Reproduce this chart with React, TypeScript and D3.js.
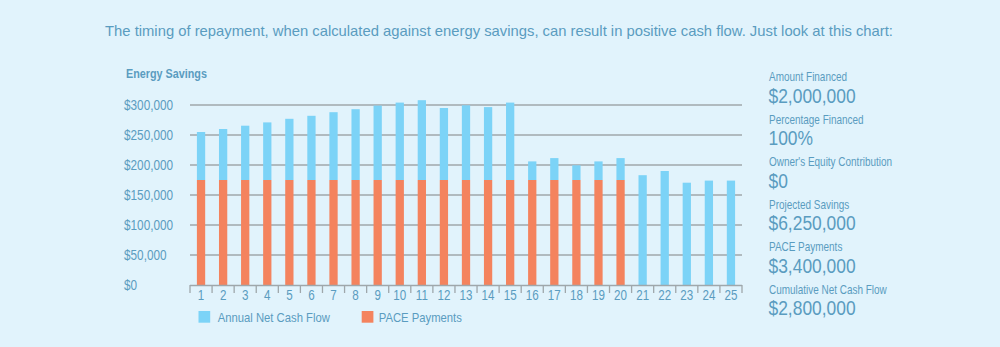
import React from "react";
import * as d3 from "d3";

const years = d3.range(1, 26).map(String);
const pacePayments = [175000,175000,175000,175000,175000,175000,175000,175000,175000,175000,175000,175000,175000,175000,175000,175000,175000,175000,175000,175000,0,0,0,0,0];
const netCashFlow = [80000,85000,90500,96000,102000,107000,113000,118000,124000,129000,133000,120000,124500,121500,129000,31000,36500,24500,31000,36500,183000,190000,170500,174000,174000];
const yTicks = [0, 50000, 100000, 150000, 200000, 250000, 300000];
const summaryLabels = ["Amount Financed","Percentage Financed","Owner's Equity Contribution","Projected Savings","PACE Payments","Cumulative Net Cash Flow"];
const summaryValues = ["$2,000,000","100%","$0","$6,250,000","$3,400,000","$2,800,000"];
const seriesNames = ["Annual Net Cash Flow", "PACE Payments"];

const BG = "#e1f3fc";
const TEXT = "#5a9cc0";
const BLUE = "#7cd3f7";
const ORANGE = "#f4835e";
const GRID = "#9fa7ab";
const SANS = "'Liberation Sans', Arial, sans-serif";
const SX = 0.83;

function NText(props: { x: number; y: number; size: number; anchor?: string; bold?: boolean; children: React.ReactNode }) {
  return (
    <text
      transform={`translate(${props.x},${props.y}) scale(${SX},1)`}
      textAnchor={props.anchor || "start"}
      fill={TEXT}
      fontFamily={SANS}
      fontSize={props.size}
      fontWeight={props.bold ? "bold" : "normal"}
    >
      {props.children}
    </text>
  );
}

export default function App() {
  const W = 1000, H = 347;
  const x = d3.scaleBand().domain(years).range([190, 742]).padding(0);
  const y = d3.scaleLinear().domain([0, 300000]).range([285, 105]);
  const rows = years.map((yr, i) => ({ year: yr, pace: pacePayments[i], net: netCashFlow[i] }));
  const stack = d3.stack<any>().keys(["pace", "net"]);
  const layers = stack(rows);
  const bw = x.bandwidth() * 0.375;
  const fmt = (v: number) => "$" + d3.format(",")(v);
  const colors: Record<string, string> = { pace: ORANGE, net: BLUE };
  const boundaries = years.map((yr) => x(yr)!).concat([742]);

  return (
    <div style={{ position: "fixed", left: 0, top: 0 }}>
      <svg width={W} height={H} style={{ display: "block", background: BG }}>
        <rect x={0} y={0} width={W} height={H} fill={BG} />
        <text x={499} y={36} textAnchor="middle" fill={TEXT} fontFamily={SANS} fontSize={14.8}>
          The timing of repayment, when calculated against energy savings, can result in positive cash flow. Just look at this chart:
        </text>
        <NText x={126} y={78} size={13} bold>Energy Savings</NText>
        {yTicks.map((t) => (
          <g key={t}>
            {t > 0 && <line x1={190} x2={742} y1={y(t)} y2={y(t)} stroke={GRID} strokeWidth={1.3} />}
            <NText x={124} y={y(t) + 5} size={14.2}>{fmt(t)}</NText>
          </g>
        ))}
        {layers.map((layer) => (
          <g key={layer.key} fill={colors[layer.key]}>
            {layer.map((d: any, i: number) => {
              const h = y(d[0]) - y(d[1]);
              if (h <= 0) return null;
              return (
                <rect key={i} x={x(years[i])! + (x.bandwidth() - bw) / 2} y={y(d[1])} width={bw} height={h} />
              );
            })}
          </g>
        ))}
        <line x1={190} x2={742} y1={285.5} y2={285.5} stroke={GRID} strokeWidth={1.3} />
        {boundaries.map((bx, i) => (
          <line key={i} x1={bx} x2={bx} y1={285} y2={293} stroke={GRID} strokeWidth={1.3} />
        ))}
        {years.map((yr) => (
          <NText key={yr} x={x(yr)! + x.bandwidth() / 2} y={300} anchor="middle" size={14}>{yr}</NText>
        ))}
        {seriesNames.map((n, i) => (
          <g key={n} transform={`translate(${i === 0 ? 198.5 : 361.7},311)`}>
            <rect width={11.7} height={11.7} fill={i === 0 ? BLUE : ORANGE} />
            <NText x={i === 0 ? 19.2 : 17} y={10.7} size={13.6}>{n}</NText>
          </g>
        ))}
        {summaryLabels.map((l, i) => (
          <g key={l}>
            <NText x={769} y={81 + i * 42.5} size={12}>{l}</NText>
            <NText x={768.5} y={102.7 + i * 42.5} size={21}>{summaryValues[i]}</NText>
          </g>
        ))}
      </svg>
    </div>
  );
}
